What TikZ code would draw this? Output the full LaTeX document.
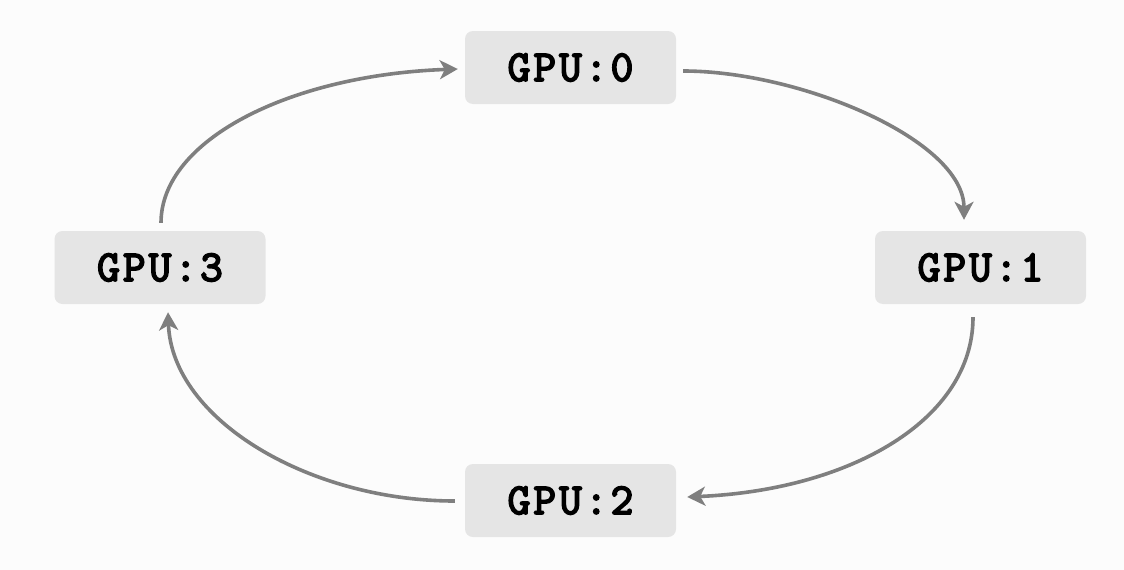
\documentclass[tikz,border=0pt]{standalone}
\usepackage{fontspec}
\newfontfamily\gpufont[FakeBold=4, LetterSpace=7]{Latin Modern Mono}
\usetikzlibrary{arrows.meta}
\definecolor{boxfill}{HTML}{E5E5E5}
\definecolor{ringgray}{HTML}{7F7F7F}
\definecolor{pagebg}{HTML}{FCFCFC}
\tikzset{
  gpubox/.style={fill=boxfill, rounded corners=8pt, minimum width=211pt,
    minimum height=73pt, inner sep=0pt,
    font=\gpufont\fontsize{44}{44}\selectfont},
  ringarrow/.style={draw=ringgray, line width=3.6pt,
    -{Stealth[length=18pt, width=19pt, inset=5pt]}}
}
\begin{document}
\begin{tikzpicture}[x=1pt, y=-1pt]
                % \clip (0,0) rectangle (1124,570);
                \fill [pagebg] (0,0) rectangle (1124,570);
                \useasboundingbox (0,0) rectangle (1124,570);

                % Marking the four GPUs
                \node [gpubox] (gpu0) at (570.500000,67.500000) {GPU:0};%
                \node [gpubox] (gpu1) at (980.500000,267.500000) {GPU:1};%
                \node [gpubox] (gpu2) at (570.500000,500.500000) {GPU:2};%
                \node [gpubox] (gpu3) at (160.000000,267.500000) {GPU:3};%

                % Drawing arc GPU:0 -> GPU:1
                \draw [ringarrow] ([shift={(7,3.5)}]gpu0.east)
                  .. controls (800.000000,71.000000) and (964.000000,140.000000)
                  .. ([shift={(-16.5,-11)}]gpu1.north);%

                % Drawing arc GPU:1 -> GPU:2
                \draw [ringarrow] ([shift={(-7.5,13)}]gpu1.south)
                  .. controls (973.000000,420.000000) and (850.000000,490.000000)
                  .. ([shift={(11,-3.5)}]gpu2.east);%

                % Drawing arc GPU:2 -> GPU:3
                \draw [ringarrow] ([shift={(-10,0.5)}]gpu2.west)
                  .. controls (310.000000,501.000000) and (172.000000,420.000000)
                  .. ([shift={(8,8)}]gpu3.south);%

                % Drawing arc GPU:3 -> GPU:0
                \draw [ringarrow] ([shift={(1,-8)}]gpu3.north)
                  .. controls (161.000000,140.000000) and (290.000000,75.000000)
                  .. ([shift={(-7,1.5)}]gpu0.west);%
\end{tikzpicture}
\end{document}
